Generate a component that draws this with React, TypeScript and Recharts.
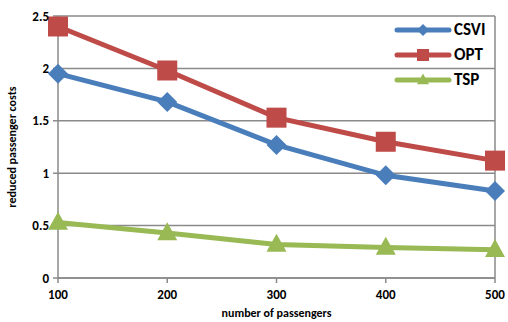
import { LineChart, Line, XAxis, YAxis, CartesianGrid, ReferenceLine } from "recharts"

const passengers = [100, 200, 300, 400, 500]
const csvi = [1.95, 1.68, 1.27, 0.98, 0.83]
const opt = [2.4, 1.98, 1.53, 1.3, 1.12]
const tsp = [0.53, 0.43, 0.32, 0.29, 0.27]
const yTicks = [0, 0.5, 1, 1.5, 2, 2.5]

const series = [
  { key: "CSVI", color: "#4a7ebb", shape: "diamond" },
  { key: "OPT", color: "#be4b48", shape: "square" },
  { key: "TSP", color: "#98b954", shape: "triangle" },
]

const rows = passengers.map((p, i) => ({ p, CSVI: csvi[i], OPT: opt[i], TSP: tsp[i] }))

const FONT = "Carlito, 'Open Sans', 'Liberation Sans', sans-serif"
const GRID = "#8a8a8a"

function Marker({ cx, cy, shape, color, size = 10 }: any) {
  if (cx == null || cy == null) return null
  if (shape === "square") {
    return <rect x={cx - size} y={cy - size} width={size * 2} height={size * 2} fill={color} />
  }
  if (shape === "diamond") {
    return (
      <polygon
        points={`${cx},${cy - size} ${cx + size},${cy} ${cx},${cy + size} ${cx - size},${cy}`}
        fill={color}
      />
    )
  }
  const h = size * 1.8
  return (
    <polygon
      points={`${cx},${cy - h * 0.6} ${cx + size},${cy + h * 0.4} ${cx - size},${cy + h * 0.4}`}
      fill={color}
    />
  )
}

// legend sits over the top-right of the plot area
function LegendBox() {
  return (
    <div
      style={{
        position: "absolute",
        left: 394,
        top: 17,
        fontFamily: FONT,
        fontWeight: 700,
        fontSize: 17,
        color: "#000",
      }}
    >
      {series.map((s) => (
        <div key={s.key} style={{ display: "flex", alignItems: "center", height: 25 }}>
          <svg width={58} height={20}>
            <line x1={3} y1={10} x2={55} y2={10} stroke={s.color} strokeWidth={5} strokeLinecap="round" />
            <Marker cx={29} cy={10} shape={s.shape} color={s.color} size={6} />
          </svg>
          <span style={{ marginLeft: 2 }}>{s.key}</span>
        </div>
      ))}
    </div>
  )
}

export default function App() {
  return (
    <div style={{ position: "absolute", left: 0, top: 0, width: 508, height: 322, background: "#fff" }}>
      <LineChart width={508} height={322} data={rows} margin={{ top: 16, right: 13, bottom: 14, left: 18 }}>
        <CartesianGrid vertical={false} stroke={GRID} strokeWidth={1.5} />
        <XAxis
          dataKey="p"
          type="number"
          domain={[100, 500]}
          ticks={passengers}
          height={30}
          stroke={GRID}
          strokeWidth={1.5}
          tickSize={5}
          tick={{ fill: "#000", fontSize: 13, fontWeight: 700, fontFamily: FONT }}
          tickMargin={7}
          label={{
            value: "number of passengers",
            position: "insideBottom",
            offset: -9,
            fill: "#000",
            fontSize: 12,
            fontWeight: 700,
            fontFamily: FONT,
          }}
        />
        <YAxis
          domain={[0, 2.5]}
          ticks={yTicks}
          width={40}
          stroke={GRID}
          strokeWidth={1.5}
          tickSize={5}
          tick={{ fill: "#000", fontSize: 13, fontWeight: 700, fontFamily: FONT }}
          tickMargin={4}
          label={{
            value: "reduced passenger costs",
            angle: -90,
            position: "insideLeft",
            offset: -6,
            style: { textAnchor: "middle" },
            fill: "#000",
            fontSize: 12,
            fontWeight: 700,
            fontFamily: FONT,
          }}
        />
        <ReferenceLine x={500} stroke={GRID} strokeWidth={1.5} />
        {series.map((s) => (
          <Line
            key={s.key}
            dataKey={s.key}
            stroke={s.color}
            strokeWidth={5}
            isAnimationActive={false}
            dot={(props: any) => (
              <Marker key={`${s.key}-${props.index}`} cx={props.cx} cy={props.cy} shape={s.shape} color={s.color} />
            )}
            activeDot={false}
          />
        ))}
      </LineChart>
      <LegendBox />
    </div>
  )
}
